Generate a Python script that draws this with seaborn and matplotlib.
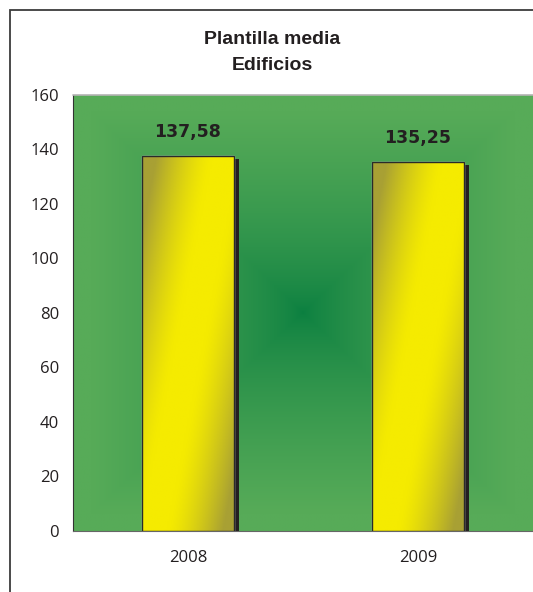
import numpy as np
import pandas as pd
import matplotlib
matplotlib.use("Agg")
import matplotlib.pyplot as plt
import matplotlib.patheffects as pe
from matplotlib.patches import Rectangle
from matplotlib.colors import to_rgb
import seaborn as sns

# Data
years = ["2008", "2009"]
plantilla = [137.58, 135.25]
labels = ["137,58", "135,25"]
yticks = [0, 20, 40, 60, 80, 100, 120, 140, 160]

df = pd.DataFrame({"Año": years, "Plantilla": plantilla})

sns.set_style("white")
plt.rcParams["font.family"] = ["Liberation Sans", "DejaVu Sans"]

fig = plt.figure(figsize=(5.33, 5.92), dpi=100)
ax = fig.add_axes([73 / 533, 1 - 531 / 592, 460 / 533, 436 / 592])

# background: rectangular radial gradient
n = 300
gx, gy = np.meshgrid(np.linspace(-1, 1, n), np.linspace(-1, 1, n))
d = np.maximum(np.abs(gx), np.abs(gy))
w = np.clip(d / 0.92, 0, 1) ** 0.7
light = np.array(to_rgb("#57ab58"))
dark = np.array(to_rgb("#0a7f40"))
bg = dark[None, None, :] * (1 - w[..., None]) + light[None, None, :] * w[..., None]
ax.imshow(bg, extent=[0, 1, 0, 1], transform=ax.transAxes, aspect="auto", zorder=0)

sns.barplot(data=df, x="Año", y="Plantilla", width=0.4, color="#231f20",
            saturation=1, ax=ax, zorder=2)

# diagonal yellow/olive sheen on the bars
yellow = np.array(to_rgb("#f5eb00"))
olive = np.array(to_rgb("#a8a034"))
bx, by = np.meshgrid(np.linspace(0, 1, 60), np.linspace(0, 1, 240))
band = bx - (0.92 - 0.8 * by)  # by = 0 at top
t = np.clip((np.abs(band) - 0.15) / 0.62, 0, 1) ** 1.4
grad = yellow[None, None, :] * (1 - t[..., None]) + olive[None, None, :] * t[..., None]

for bar, lab in zip(ax.patches, labels):
    bar.set_path_effects([pe.SimplePatchShadow(offset=(3.6, -2.2), shadow_rgbFace="#231f20", alpha=1),
                          pe.Normal()])
    x0, y0, bw, bh = bar.get_x(), bar.get_y(), bar.get_width(), bar.get_height()
    im = ax.imshow(grad, extent=[x0, x0 + bw, y0, y0 + bh], aspect="auto", zorder=3,
                   origin="upper")
    im.set_clip_path(bar)
    ax.add_patch(Rectangle((x0, y0), bw, bh, fill=False, edgecolor="#2a2a2a",
                           linewidth=1.0, zorder=4))
    ax.text(x0 + bw / 2, y0 + bh + 5.5, lab, ha="center", va="bottom",
            fontsize=12.5, fontweight="bold", color="#231f20", family="DejaVu Sans")

ax.set_xlim(-0.5, 1.5)
ax.set_ylim(0, 160)
ax.set_yticks(yticks)
ax.set_xticks([0, 1])
ax.set_xticks([-0.5, 0.5, 1.5], minor=True)
ax.tick_params(axis="x", which="major", length=0, pad=14, labelsize=12, labelcolor="#231f20")
ax.tick_params(axis="x", which="minor", length=6, width=1, color="#555555", direction="out")
ax.tick_params(axis="y", length=6, width=1, color="#333333", direction="out", pad=4,
               labelsize=12, labelcolor="#231f20")
ax.set_xlabel("")
ax.set_ylabel("")
for lab in ax.get_xticklabels() + ax.get_yticklabels():
    lab.set_family(["Open Sans", "DejaVu Sans"])

for s in ["top", "right"]:
    ax.spines[s].set_visible(False)
ax.spines["left"].set_color("#333333")
ax.spines["bottom"].set_color("#666666")
ax.plot([0, 1], [1, 1], transform=ax.transAxes, color="#b4b4b4", linewidth=1.2,
        zorder=5, clip_on=False)

# chart frame
fig.add_artist(Rectangle((10 / 533, -0.1), 1.2, 1.1 - 10 / 592, transform=fig.transFigure,
                         fill=False, edgecolor="#3c3c3c", linewidth=1.3))

fig.text(272 / 533, 1 - 40 / 592, "Plantilla media", ha="center", va="center",
         fontsize=14, fontweight="bold", color="#231f20")
fig.text(272 / 533, 1 - 65 / 592, "Edificios", ha="center", va="center",
         fontsize=14, fontweight="bold", color="#231f20")

fig.savefig("out.png", dpi=100)
